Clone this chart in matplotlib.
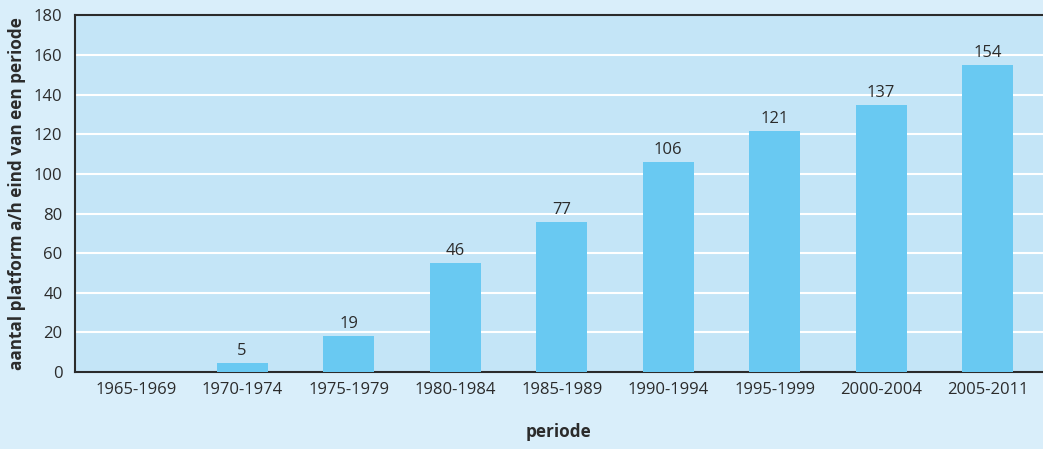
import matplotlib.pyplot as plt
import numpy as np

plt.rcParams['font.family'] = ['Open Sans', 'DejaVu Sans']

# Data
periods = ['1965-1969', '1970-1974', '1975-1979', '1980-1984', '1985-1989',
           '1990-1994', '1995-1999', '2000-2004', '2005-2011']
bar_heights = [0, 4.5, 18.2, 55, 75.8, 106, 121.7, 134.8, 155]
bar_labels = ['', '5', '19', '46', '77', '106', '121', '137', '154']
y_ticks = [0, 20, 40, 60, 80, 100, 120, 140, 160, 180]

fig_bg = '#d9eefa'
plot_bg = '#c4e5f7'
bar_color = '#69c9f2'
dark = '#2b2b2b'

fig = plt.figure(figsize=(10.43, 4.49), dpi=100)
fig.patch.set_facecolor(fig_bg)
ax = fig.add_axes([0.0719, 0.1715, 0.9281, 0.794])
ax.set_facecolor(plot_bg)

x = np.arange(len(periods))
bars = ax.bar(x, bar_heights, width=0.48, color=bar_color, zorder=3)

for xi, h, lab in zip(x, bar_heights, bar_labels):
    if lab:
        ax.annotate(lab, (xi, h), xytext=(0, 3), textcoords='offset points',
                    ha='center', va='bottom', fontsize=12, color=dark)

ax.set_xlim(-0.57, 8.52)
ax.set_ylim(0, 180)
ax.set_yticks(y_ticks)
ax.set_xticks(x)
ax.set_xticklabels(periods)
ax.tick_params(axis='both', length=0, labelsize=12, colors=dark)
ax.tick_params(axis='y', pad=9)
ax.tick_params(axis='x', pad=7)

ax.yaxis.grid(True, color='white', linewidth=1.5, zorder=1)
ax.set_axisbelow(True)

for side in ['left', 'bottom', 'top']:
    ax.spines[side].set_color(dark)
    ax.spines[side].set_linewidth(1.5)
ax.spines['right'].set_visible(False)

ax.set_ylabel('aantal platform a/h eind van een periode', fontsize=12.3,
              fontweight='bold', color=dark, labelpad=6)
ax.set_xlabel('periode', fontsize=12.3, fontweight='bold', color=dark, labelpad=18)

fig.savefig('out.png', dpi=100, facecolor=fig_bg)
